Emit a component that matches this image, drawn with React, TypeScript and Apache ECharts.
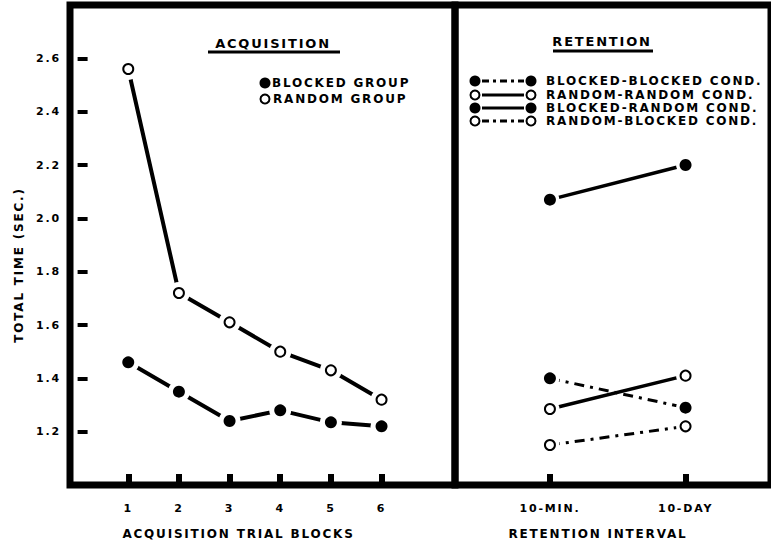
import React, { useEffect, useRef } from "react";
import * as echarts from "echarts";

// ---- data ----
const acquisitionBlocks = [1, 2, 3, 4, 5, 6];
const blockedGroup = [1.46, 1.35, 1.24, 1.28, 1.235, 1.22];
const randomGroup = [2.56, 1.72, 1.61, 1.5, 1.43, 1.32];

const retentionIntervals = ["10-MIN.", "10-DAY"];
const blockedBlocked = [1.4, 1.29];
const randomRandom = [1.285, 1.41];
const blockedRandom = [2.07, 2.2];
const randomBlocked = [1.15, 1.22];

const yTickValues = [1.2, 1.4, 1.6, 1.8, 2.0, 2.2, 2.4, 2.6];

const FONT = '"DejaVu Sans", "Liberation Sans", sans-serif';
const DASH_DOT = [10, 6, 3, 6];
const HALO_COLOR = "#ffffff";

function makeSeries(
  name: string,
  xs: number[],
  ys: number[],
  grid: number,
  filled: boolean,
  dash: any,
  width: number,
  halo: number
) {
  const data = xs.map((x, i) => [x, ys[i]]);
  return [
    {
      type: "line",
      name: name + " line",
      xAxisIndex: grid,
      yAxisIndex: grid,
      data,
      showSymbol: false,
      lineStyle: { color: "#000", width, type: dash, cap: "butt" },
      z: 2,
    },
    {
      type: "scatter",
      name: name + " gap",
      xAxisIndex: grid,
      yAxisIndex: grid,
      data,
      symbol: "circle",
      symbolSize: halo,
      itemStyle: { color: HALO_COLOR, opacity: 1 },
      z: 3,
    },
    {
      type: "scatter",
      name,
      xAxisIndex: grid,
      yAxisIndex: grid,
      data,
      symbol: "circle",
      symbolSize: filled ? 12 : 10,
      itemStyle: filled
        ? { color: "#000", opacity: 1 }
        : { color: "#fff", borderColor: "#000", borderWidth: 2, opacity: 1 },
      z: 4,
    },
  ];
}

const retX = retentionIntervals.map((_, i) => i);

const labelStyle = { color: "#000", fontFamily: FONT, fontWeight: "bold" as const };

function legendRow(y: number, filled: boolean, dash: any, text: string) {
  const circ = (cx: number) => ({
    type: "circle",
    shape: { cx, cy: y, r: filled ? 5.5 : 4.5 },
    style: filled
      ? { fill: "#000" }
      : { fill: "#fff", stroke: "#000", lineWidth: 2 },
    z: 10,
  });
  return [
    {
      type: "line",
      shape: { x1: 482, y1: y, x2: 524, y2: y },
      style: { stroke: "#000", lineWidth: 3, lineDash: dash },
      z: 9,
    },
    circ(475),
    circ(531),
    {
      type: "text",
      x: 546,
      y,
      style: {
        text,
        fill: "#000",
        font: `bold 12px ${FONT}`,
        align: "left",
        verticalAlign: "middle",
      },
      z: 10,
    },
  ];
}

const option: any = {
  animation: false,
  backgroundColor: "#fff",
  grid: [
    {
      left: 70,
      top: 5,
      width: 385,
      height: 480,
      show: true,
      borderColor: "#000",
      borderWidth: 7,
      backgroundColor: "transparent",
    },
    {
      left: 455,
      top: 5,
      width: 320,
      height: 480,
      show: true,
      borderColor: "#000",
      borderWidth: 7,
      backgroundColor: "transparent",
    },
  ],
  xAxis: [
    {
      type: "value",
      gridIndex: 0,
      min: -0.15,
      max: 7.45,
      axisLine: { show: false },
      splitLine: { show: false },
      axisTick: {
        show: true,
        inside: true,
        length: 11,
        customValues: acquisitionBlocks,
        lineStyle: { color: "#000", width: 6 },
      },
      axisLabel: {
        ...labelStyle,
        fontSize: 11,
        margin: 18,
        customValues: acquisitionBlocks,
        formatter: (v: number) => String(Math.round(v)),
      },
      name: "ACQUISITION TRIAL BLOCKS",
      nameLocation: "middle",
      nameGap: 43,
      nameTextStyle: { ...labelStyle, fontSize: 12, padding: [0, 48, 0, 0] },
    },
    {
      type: "value",
      gridIndex: 1,
      min: -0.7,
      max: 1.63,
      axisLine: { show: false },
      splitLine: { show: false },
      axisTick: {
        show: true,
        inside: true,
        length: 11,
        customValues: retX,
        lineStyle: { color: "#000", width: 6 },
      },
      axisLabel: {
        ...labelStyle,
        fontSize: 11,
        margin: 18,
        customValues: retX,
        formatter: (v: number) => retentionIntervals[Math.round(v)] ?? "",
      },
      name: "RETENTION INTERVAL",
      nameLocation: "middle",
      nameGap: 43,
      nameTextStyle: { ...labelStyle, fontSize: 12, padding: [0, 30, 0, 0] },
    },
  ],
  yAxis: [
    {
      type: "value",
      gridIndex: 0,
      min: 1.0,
      max: 2.8,
      axisLine: { show: false },
      splitLine: { show: false },
      axisTick: {
        show: true,
        inside: true,
        length: 10,
        customValues: yTickValues,
        lineStyle: { color: "#000", width: 4 },
      },
      axisLabel: {
        ...labelStyle,
        fontSize: 11,
        margin: 9,
        customValues: yTickValues,
        formatter: (v: number) => v.toFixed(1),
      },
      name: "TOTAL TIME (SEC.)",
      nameLocation: "middle",
      nameGap: 45,
      nameTextStyle: { ...labelStyle, fontSize: 12, padding: [0, 40, 0, 0] },
    },
    {
      type: "value",
      gridIndex: 1,
      min: 1.0,
      max: 2.8,
      axisLine: { show: false },
      splitLine: { show: false },
      axisTick: { show: false },
      axisLabel: { show: false },
    },
  ],
  series: [
    ...makeSeries("BLOCKED GROUP", acquisitionBlocks, blockedGroup, 0, true, "solid", 4, 22),
    ...makeSeries("RANDOM GROUP", acquisitionBlocks, randomGroup, 0, false, "solid", 4, 22),
    ...makeSeries("BLOCKED-BLOCKED COND.", retX, blockedBlocked, 1, true, DASH_DOT, 3, 19),
    ...makeSeries("RANDOM-RANDOM COND.", retX, randomRandom, 1, false, "solid", 3.5, 19),
    ...makeSeries("BLOCKED-RANDOM COND.", retX, blockedRandom, 1, true, "solid", 3.5, 19),
    ...makeSeries("RANDOM-BLOCKED COND.", retX, randomBlocked, 1, false, DASH_DOT, 3, 19),
  ],
  graphic: [
    {
      type: "text",
      x: 273,
      y: 43,
      style: {
        text: "ACQUISITION",
        fill: "#000",
        font: `bold 13px ${FONT}`,
        align: "center",
        verticalAlign: "middle",
      },
      z: 10,
    },
    {
      type: "line",
      shape: { x1: 208, y1: 52, x2: 340, y2: 52 },
      style: { stroke: "#000", lineWidth: 3 },
      z: 10,
    },
    {
      type: "text",
      x: 602,
      y: 41,
      style: {
        text: "RETENTION",
        fill: "#000",
        font: `bold 13px ${FONT}`,
        align: "center",
        verticalAlign: "middle",
      },
      z: 10,
    },
    {
      type: "line",
      shape: { x1: 553, y1: 51, x2: 653, y2: 51 },
      style: { stroke: "#000", lineWidth: 3 },
      z: 10,
    },
    {
      type: "circle",
      shape: { cx: 265, cy: 83, r: 5.5 },
      style: { fill: "#000" },
      z: 10,
    },
    {
      type: "text",
      x: 272,
      y: 83,
      style: {
        text: "BLOCKED GROUP",
        fill: "#000",
        font: `bold 12px ${FONT}`,
        align: "left",
        verticalAlign: "middle",
      },
      z: 10,
    },
    {
      type: "circle",
      shape: { cx: 265, cy: 99, r: 4.5 },
      style: { fill: "#fff", stroke: "#000", lineWidth: 2 },
      z: 10,
    },
    {
      type: "text",
      x: 273,
      y: 99,
      style: {
        text: "RANDOM GROUP",
        fill: "#000",
        font: `bold 12px ${FONT}`,
        align: "left",
        verticalAlign: "middle",
      },
      z: 10,
    },
    ...legendRow(81, true, [7, 4, 3, 4], "BLOCKED-BLOCKED COND."),
    ...legendRow(95, false, null, "RANDOM-RANDOM COND."),
    ...legendRow(108, true, null, "BLOCKED-RANDOM COND."),
    ...legendRow(121, false, [7, 4, 3, 4], "RANDOM-BLOCKED COND."),
  ],
};

export default function App() {
  const ref = useRef<HTMLDivElement>(null);
  useEffect(() => {
    document.body.style.margin = "0";
    const chart = echarts.init(ref.current!, null, { renderer: "svg" });
    chart.setOption(option);
    return () => chart.dispose();
  }, []);
  return (
    <>
      <style>{`#chart-root text { letter-spacing: 1.8px; }`}</style>
      <div
        id="chart-root"
        ref={ref}
        style={{ width: 771, height: 547, overflow: "hidden", background: "#fff" }}
      />
    </>
  );
}
